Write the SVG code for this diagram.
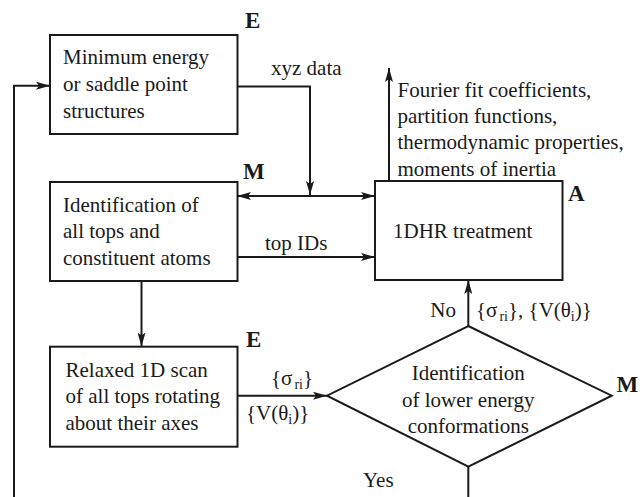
<svg xmlns="http://www.w3.org/2000/svg" width="643" height="497" viewBox="0 0 643 497">
<defs>
<style>
.box{fill:#fff;stroke:#1a1a1a;stroke-width:2}
.ln{fill:none;stroke:#1a1a1a;stroke-width:2}
.t{font-family:"Liberation Serif","Times New Roman",serif;font-size:21px;fill:#1a1a1a}
.lab{font-family:"Liberation Serif","Times New Roman",serif;font-size:23px;font-weight:bold;fill:#1a1a1a}
.sub{font-size:14px}
</style>
<marker id="ah" viewBox="0 0 14 8" refX="14" refY="4" markerWidth="14" markerHeight="8" markerUnits="userSpaceOnUse" orient="auto-start-reverse">
<path d="M0,0 L14,4 L0,8 L3,4 Z" fill="#1a1a1a"/>
</marker>
</defs>
<rect width="643" height="497" fill="#fff"/>

<g id="connectors">
<path class="ln" d="M237,86.5 H310 V195" marker-end="url(#ah)"/>
<path class="ln" d="M237,196 H375" marker-start="url(#ah)" marker-end="url(#ah)"/>
<path class="ln" d="M237,257 H375" marker-end="url(#ah)"/>
<path class="ln" d="M389,181 V68" marker-end="url(#ah)"/>
<path class="ln" d="M141.5,281 V346.5" marker-end="url(#ah)"/>
<path class="ln" d="M237,395.7 H327" marker-end="url(#ah)"/>
<path class="ln" d="M468.3,326 V280" marker-end="url(#ah)"/>
<path class="ln" d="M468.3,466.7 V510 H14 V85.7 H50" marker-end="url(#ah)"/>
</g>

<g id="labels">
<text class="t" x="271" y="75">xyz data</text>
<text class="t" x="265" y="250">top IDs</text>
<text class="t" x="397.5"><tspan x="397.5" y="96.7">Fourier fit coefficients,</tspan><tspan x="397.5" y="123">partition functions,</tspan><tspan x="397.5" y="149.3">thermodynamic properties,</tspan><tspan x="397.5" y="175.7">moments of inertia</tspan></text>
<text class="t" x="271" y="385">{σ<tspan class="sub" dx="2" dy="4">ri</tspan><tspan dy="-4">}</tspan></text>
<text class="t" x="246" y="420">{V(θ<tspan class="sub" dy="4">i</tspan><tspan dy="-4">)}</tspan></text>
<text class="t" x="456" y="316.7" text-anchor="end">No</text>
<text class="t" x="476" y="316.7">{σ<tspan class="sub" dx="2" dy="4">ri</tspan><tspan dy="-4">},  {V(θ</tspan><tspan class="sub" dy="4">i</tspan><tspan dy="-4">)}</tspan></text>
<text class="t" x="363" y="486.7">Yes</text>
</g>

<g id="node-min-energy">
<rect class="box" x="50" y="35" width="187.5" height="99"/>
<text class="t"><tspan x="63" y="64.3">Minimum energy</tspan><tspan x="63" y="91.3">or saddle point</tspan><tspan x="63" y="118.3">structures</tspan></text>
<text class="lab" x="245" y="28">E</text>
</g>

<g id="node-identification">
<rect class="box" x="50" y="182" width="187.5" height="99"/>
<text class="t"><tspan x="63" y="211.7">Identification of</tspan><tspan x="63" y="238.3">all tops and</tspan><tspan x="63" y="264.5">constituent atoms</tspan></text>
<text class="lab" x="243" y="179">M</text>
</g>

<g id="node-1dhr">
<rect class="box" x="375" y="181" width="187.5" height="99"/>
<text class="t" x="393" y="237.5">1DHR treatment</text>
<text class="lab" x="568" y="201">A</text>
</g>

<g id="node-scan">
<rect class="box" x="50" y="346.7" width="187.5" height="100"/>
<text class="t"><tspan x="65.5" y="376.7">Relaxed 1D scan</tspan><tspan x="65.5" y="403.3">of all tops rotating</tspan><tspan x="65.5" y="430">about their axes</tspan></text>
<text class="lab" x="246" y="347">E</text>
</g>

<g id="node-decision">
<path class="box" d="M468.3,326 L611.7,395.7 L468.3,466.7 L327,395.7 Z"/>
<text class="t" text-anchor="middle"><tspan x="468.3" y="380">Identification</tspan><tspan x="468.3" y="406.7">of lower energy</tspan><tspan x="468.3" y="432.7">conformations</tspan></text>
<text class="lab" x="616.5" y="392">M</text>
</g>
</svg>
